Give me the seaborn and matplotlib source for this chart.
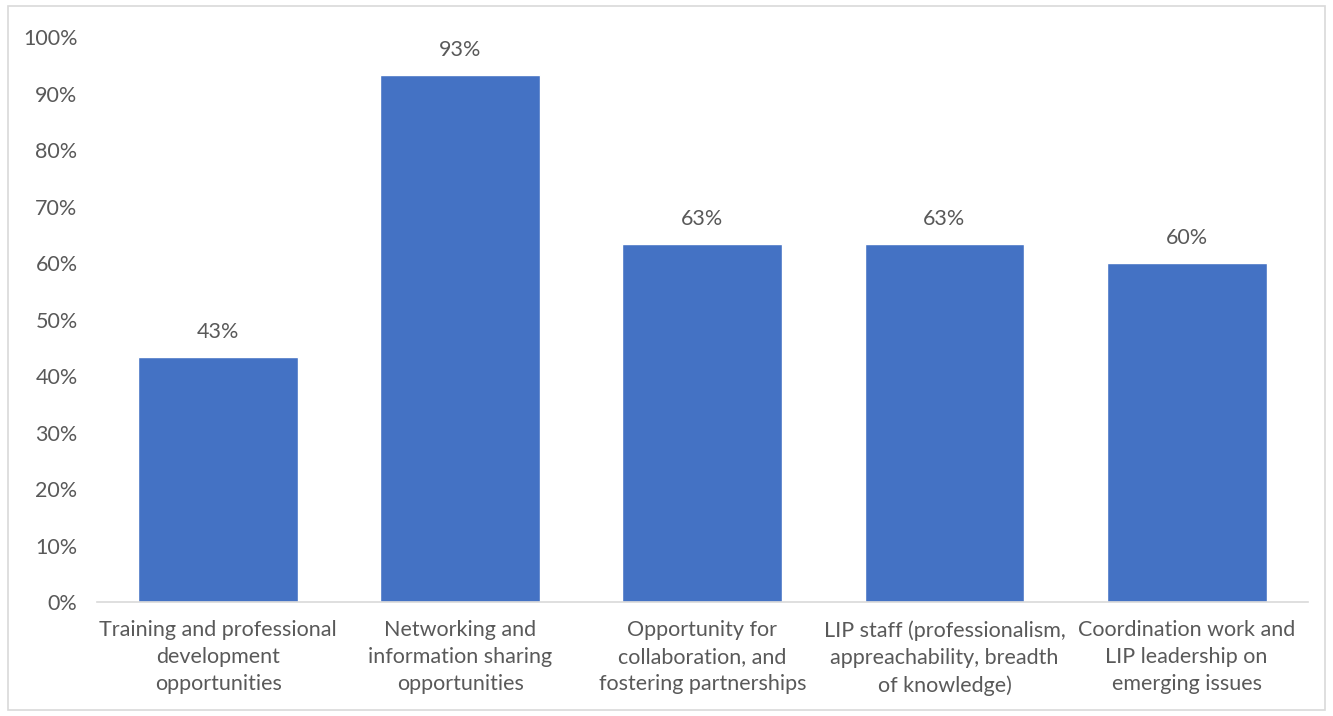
import matplotlib
matplotlib.use("Agg")
import matplotlib.pyplot as plt
import seaborn as sns
import pandas as pd
from matplotlib.patches import Rectangle

categories = [
    "Training and professional\ndevelopment\nopportunities",
    "Networking and\ninformation sharing\nopportunities",
    "Opportunity for\ncollaboration, and\nfostering partnerships",
    "LIP staff (professionalism,\nappreachability, breadth\nof knowledge)",
    "Coordination work and\nLIP leadership on\nemerging issues",
]
values = [43.33, 93.33, 63.33, 63.33, 60.0]
y_ticks = [0, 10, 20, 30, 40, 50, 60, 70, 80, 90, 100]

sns.set_style("white")
plt.rcParams["font.family"] = ["Lato", "DejaVu Sans"]

df = pd.DataFrame({"category": categories, "value": values})

fig = plt.figure(figsize=(13.33, 7.16), dpi=100)
ax = fig.add_axes([0.0728, 0.1592, 0.9082, 0.7888])

sns.barplot(data=df, x="category", y="value", color="#4472C4",
            saturation=1, width=0.66, ax=ax)

text_color = "#595959"
for patch, v in zip(ax.patches, values):
    ax.text(patch.get_x() + patch.get_width() / 2, v + 4.4, f"{v:.0f}%",
            ha="center", va="center", fontsize=15.5, color=text_color)

ax.set_ylim(0, 100)
ax.set_yticks(y_ticks)
ax.set_yticklabels([f"{t}%" for t in y_ticks])
ax.set_xlabel("")
ax.set_ylabel("")
ax.tick_params(axis="both", length=0, labelsize=15.5, colors=text_color)
ax.tick_params(axis="y", pad=14)
ax.tick_params(axis="x", pad=13)
for lbl in ax.get_xticklabels():
    lbl.set_multialignment("center")
    lbl.set_linespacing(1.45)

for side in ["top", "right", "left"]:
    ax.spines[side].set_visible(False)
ax.spines["bottom"].set_color("#D9D9D9")
ax.spines["bottom"].set_linewidth(1.2)

fig.patches.append(Rectangle((0.006, 0.008), 0.988, 0.983, transform=fig.transFigure,
                             fill=False, edgecolor="#D9D9D9", linewidth=1.2))

fig.savefig("out.png", dpi=100)
